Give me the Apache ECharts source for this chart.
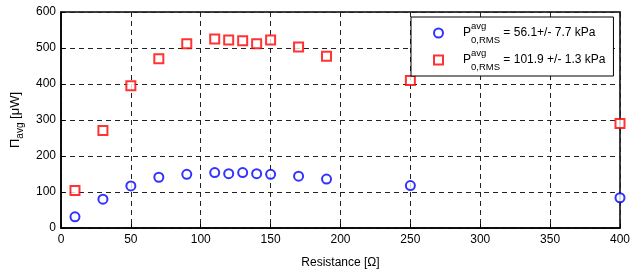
<!DOCTYPE html>
<html>
<head>
<meta charset="utf-8">
<script src="https://cdn.jsdelivr.net/npm/echarts@6/dist/echarts.min.js"></script>
<style>
  html, body { margin: 0; padding: 0; background: #fff; }
  #chart { width: 633px; height: 275px; }
</style>
</head>
<body>
<div id="chart"></div>
<script>
  // resistance values [ohm]
  const resistance = [10, 30, 50, 70, 90, 110, 120, 130, 140, 150, 170, 190, 250, 400];
  // mean power [uW] at two pressure levels
  const powerLow  = [31, 80, 117, 141, 149, 154, 151, 154, 151, 149, 144, 136, 118, 84];
  const powerHigh = [104, 271, 395, 470, 512, 525, 522, 520, 512, 522, 503, 477, 410, 290];
  const legendText = [' = 56.1+/- 7.7 kPa', ' = 101.9 +/- 1.3 kPa'];
  const seriesNames = ['low', 'high'];

  const FONT = '"Liberation Sans", Arial, Helvetica, sans-serif';
  const COLORS = { low: '#0000ff', high: '#ff0000' };

  const chart = echarts.init(document.getElementById('chart'));

  const gridLine = { show: true, lineStyle: { color: '#222', type: [5, 4], width: 1 } };

  chart.setOption({
    animation: false,
    backgroundColor: '#fff',
    textStyle: { fontFamily: FONT },
    grid: {
      left: 61, right: 11, top: 12, bottom: 47,
      show: true, borderColor: '#000', borderWidth: 1.5,
    },
    legend: {
      orient: 'vertical',
      left: 411, top: 17,
      padding: [4, 8, 4, 22],
      itemGap: 3,
      itemWidth: 9, itemHeight: 9,
      backgroundColor: '#fff',
      borderColor: '#000',
      borderWidth: 1,
      data: seriesNames,
      formatter: (name) => {
        const i = seriesNames.indexOf(name);
        return `{p|P}{sup|avg}{sub|0,RMS}{t|${legendText[i]}}`;
      },
      textStyle: {
        fontFamily: FONT,
        color: '#000',
        rich: {
          p:   { fontSize: 12, padding: [0, 0, 0, 15], verticalAlign: 'middle', lineHeight: 24, fontFamily: FONT, color: '#000' },
          sup: { fontSize: 9.5, width: 0, verticalAlign: 'top', fontFamily: FONT, color: '#000' },
          sub: { fontSize: 9.5, verticalAlign: 'bottom', fontFamily: FONT, color: '#000' },
          t:   { fontSize: 12, verticalAlign: 'middle', fontFamily: FONT, color: '#000' },
        },
      },
    },
    xAxis: {
      type: 'value',
      min: 0, max: 400, interval: 50,
      name: 'Resistance [Ω]',
      nameLocation: 'middle',
      nameGap: 29,
      nameTextStyle: { fontSize: 12, color: '#000', fontFamily: FONT },
      axisLine: { show: true, lineStyle: { color: '#000', width: 1.5 } },
      axisTick: { show: true, inside: true, length: 4, lineStyle: { color: '#000' } },
      axisLabel: { fontSize: 12, color: '#000', margin: 6, fontFamily: FONT },
      splitLine: gridLine,
    },
    yAxis: {
      type: 'value',
      min: 0, max: 600, interval: 100,
      name: '{a|Π}{b|avg}{a| [μW]}',
      nameLocation: 'middle',
      nameRotate: 90,
      nameGap: 31,
      nameTextStyle: {
        color: '#000',
        rich: {
          a: { fontSize: 13, fontFamily: FONT, color: '#000', verticalAlign: 'middle', lineHeight: 20 },
          b: { fontSize: 10, fontFamily: FONT, color: '#000', verticalAlign: 'bottom' },
        },
      },
      axisLine: { show: true, lineStyle: { color: '#000', width: 1.5 } },
      axisTick: { show: true, inside: true, length: 4, lineStyle: { color: '#000' } },
      axisLabel: { fontSize: 12, color: '#000', margin: 5, fontFamily: FONT },
      splitLine: gridLine,
    },
    series: [
      {
        name: seriesNames[0],
        type: 'scatter',
        symbol: 'emptyCircle',
        symbolSize: 9,
        itemStyle: { color: COLORS.low, borderColor: COLORS.low, borderWidth: 1 },
        data: resistance.map((r, i) => [r, powerLow[i]]),
      },
      {
        name: seriesNames[1],
        type: 'scatter',
        symbol: 'emptyRect',
        symbolSize: 9,
        itemStyle: { color: COLORS.high, borderColor: COLORS.high, borderWidth: 1 },
        data: resistance.map((r, i) => [r, powerHigh[i]]),
      },
    ],
  });
</script>
</body>
</html>
